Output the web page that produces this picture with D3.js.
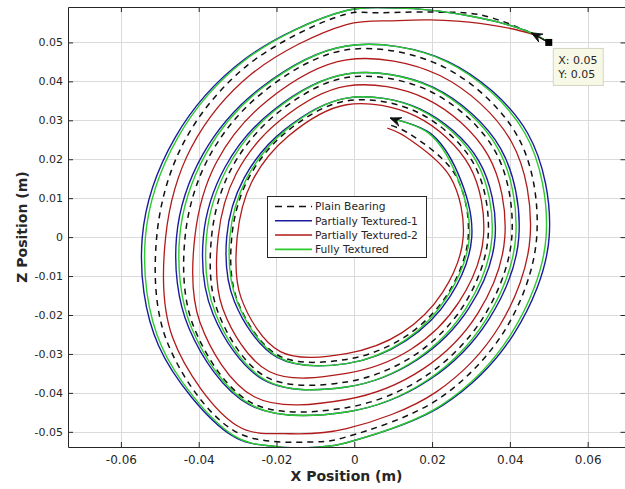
<!DOCTYPE html>
<html>
<head>
<meta charset="utf-8">
<script src="https://cdn.jsdelivr.net/npm/d3@7"></script>
<style>
  html, body { margin: 0; padding: 0; background: #ffffff; }
  svg { display: block; font-family: "DejaVu Sans", sans-serif; }
</style>
</head>
<body>
<svg id="chart" width="625" height="489"></svg>
<script>
// ---- data (journal centre orbit, X / Z position in metres) ----
const xTicks = [-0.06, -0.04, -0.02, 0, 0.02, 0.04, 0.06];
const xTickLabels = ["-0.06", "-0.04", "-0.02", "0", "0.02", "0.04", "0.06"];
const zTicks = [-0.05, -0.04, -0.03, -0.02, -0.01, 0, 0.01, 0.02, 0.03, 0.04, 0.05];
const zTickLabels = ["-0.05", "-0.04", "-0.03", "-0.02", "-0.01", "0", "0.01", "0.02", "0.03", "0.04", "0.05"];

const seriesNames = ["Plain Bearing", "Partially Textured-1", "Partially Textured-2", "Fully Textured"];

const plainBearing = [
  [0.0500, 0.0500], [0.0451, 0.0526], [0.0323, 0.0571], [0.0195, 0.0578], [0.0066, 0.0576],
  [-0.0020, 0.0573], [-0.0275, 0.0441], [-0.0439, 0.0242], [-0.0508, 0.0000], [-0.0482, -0.0267],
  [-0.0308, -0.0498], [-0.0101, -0.0526], [-0.0020, -0.0513], [0.0219, -0.0414], [0.0389, -0.0236],
  [0.0469, 0.0000], [0.0422, 0.0255], [0.0232, 0.0436], [-0.0020, 0.0481], [-0.0235, 0.0372],
  [-0.0374, 0.0205], [-0.0435, 0.0000], [-0.0414, -0.0227], [-0.0265, -0.0425], [-0.0020, -0.0438],
  [0.0185, -0.0356], [0.0333, -0.0204], [0.0405, 0.0000], [0.0362, 0.0221], [0.0196, 0.0374],
  [-0.0020, 0.0410], [-0.0202, 0.0315], [-0.0318, 0.0172], [-0.0367, 0.0000], [-0.0351, -0.0191],
  [-0.0227, -0.0359], [-0.0020, -0.0372], [0.0155, -0.0303], [0.0282, -0.0174], [0.0344, 0.0000],
  [0.0307, 0.0189], [0.0164, 0.0320], [-0.0020, 0.0350], [-0.0176, 0.0269], [-0.0274, 0.0147],
  [-0.0315, 0.0000], [-0.0301, -0.0162], [-0.0195, -0.0304], [-0.0020, -0.0314], [0.0129, -0.0257],
  [0.0238, -0.0149], [0.0293, 0.0000], [0.0259, 0.0161], [0.0136, 0.0269], [0.0085, 0.0290]
];

const partiallyTextured1 = [
  [0.0500, 0.0500], [0.0460, 0.0522], [0.0375, 0.0551], [0.0297, 0.0568], [0.0195, 0.0583],
  [0.0117, 0.0588], [-0.0020, 0.0582], [-0.0283, 0.0456], [-0.0461, 0.0255], [-0.0545, 0.0000],
  [-0.0503, -0.0279], [-0.0314, -0.0510], [-0.0199, -0.0538], [-0.0088, -0.0539], [-0.0020, -0.0528],
  [0.0229, -0.0431], [0.0410, -0.0249], [0.0501, 0.0000], [0.0445, 0.0268], [0.0241, 0.0451],
  [-0.0020, 0.0491], [-0.0241, 0.0383], [-0.0389, 0.0213], [-0.0457, 0.0000], [-0.0425, -0.0234],
  [-0.0269, -0.0431], [-0.0020, -0.0449], [0.0192, -0.0367], [0.0346, -0.0211], [0.0423, 0.0000],
  [0.0376, 0.0228], [0.0202, 0.0385], [-0.0020, 0.0419], [-0.0208, 0.0326], [-0.0332, 0.0180],
  [-0.0388, 0.0000], [-0.0363, -0.0198], [-0.0232, -0.0367], [-0.0020, -0.0385], [0.0162, -0.0315],
  [0.0295, -0.0182], [0.0362, 0.0000], [0.0320, 0.0196], [0.0170, 0.0329], [-0.0020, 0.0357],
  [-0.0179, 0.0276], [-0.0283, 0.0152], [-0.0328, 0.0000], [-0.0308, -0.0166], [-0.0198, -0.0309],
  [-0.0020, -0.0325], [0.0133, -0.0266], [0.0246, -0.0153], [0.0302, 0.0000], [0.0266, 0.0165],
  [0.0195, 0.0267], [0.0092, 0.0306]
];

const partiallyTextured2 = [
  [0.0500, 0.0500], [0.0451, 0.0523], [0.0323, 0.0549], [0.0195, 0.0558], [0.0110, 0.0556],
  [-0.0020, 0.0546], [-0.0263, 0.0420], [-0.0419, 0.0230], [-0.0485, 0.0000], [-0.0467, -0.0258],
  [-0.0300, -0.0485], [-0.0165, -0.0505], [-0.0020, -0.0492], [0.0210, -0.0398], [0.0374, -0.0227],
  [0.0452, 0.0000], [0.0404, 0.0245], [0.0220, 0.0415], [-0.0020, 0.0455], [-0.0223, 0.0351],
  [-0.0354, 0.0193], [-0.0410, 0.0000], [-0.0397, -0.0218], [-0.0257, -0.0410], [-0.0020, -0.0417],
  [0.0176, -0.0339], [0.0318, -0.0195], [0.0387, 0.0000], [0.0344, 0.0210], [0.0185, 0.0355],
  [-0.0020, 0.0388], [-0.0192, 0.0299], [-0.0303, 0.0164], [-0.0350, 0.0000], [-0.0338, -0.0184],
  [-0.0219, -0.0345], [-0.0020, -0.0350], [0.0146, -0.0288], [0.0269, -0.0167], [0.0332, 0.0000],
  [0.0296, 0.0183], [0.0159, 0.0310], [-0.0020, 0.0340], [-0.0170, 0.0259], [-0.0264, 0.0141],
  [-0.0301, 0.0000], [-0.0291, -0.0156], [-0.0190, -0.0294], [-0.0020, -0.0299], [0.0122, -0.0246],
  [0.0227, -0.0142], [0.0280, 0.0000], [0.0247, 0.0154], [0.0130, 0.0259], [0.0085, 0.0280]
];

const fullyTextured = [
  [0.0500, 0.0500], [0.0460, 0.0522], [0.0375, 0.0551], [0.0297, 0.0568], [0.0195, 0.0583],
  [0.0117, 0.0588], [-0.0020, 0.0582], [-0.0279, 0.0456], [-0.0454, 0.0255], [-0.0537, 0.0000],
  [-0.0496, -0.0279], [-0.0310, -0.0510], [-0.0199, -0.0538], [-0.0088, -0.0539], [-0.0020, -0.0528],
  [0.0225, -0.0431], [0.0403, -0.0249], [0.0493, 0.0000], [0.0438, 0.0268], [0.0237, 0.0451],
  [-0.0020, 0.0491], [-0.0237, 0.0383], [-0.0382, 0.0213], [-0.0449, 0.0000], [-0.0418, -0.0234],
  [-0.0265, -0.0431], [-0.0020, -0.0449], [0.0188, -0.0367], [0.0339, -0.0211], [0.0415, 0.0000],
  [0.0369, 0.0228], [0.0198, 0.0385], [-0.0020, 0.0419], [-0.0204, 0.0326], [-0.0325, 0.0180],
  [-0.0380, 0.0000], [-0.0356, -0.0198], [-0.0228, -0.0367], [-0.0020, -0.0385], [0.0158, -0.0315],
  [0.0288, -0.0182], [0.0354, 0.0000], [0.0313, 0.0196], [0.0166, 0.0329], [-0.0020, 0.0357],
  [-0.0175, 0.0276], [-0.0276, 0.0152], [-0.0320, 0.0000], [-0.0301, -0.0166], [-0.0194, -0.0309],
  [-0.0020, -0.0325], [0.0129, -0.0266], [0.0239, -0.0153], [0.0296, 0.0000], [0.0260, 0.0165],
  [0.0191, 0.0267], [0.0092, 0.0306]
];

// data tip on the starting point and the start-direction arrow
const tipPoint = [0.05, 0.05];
const startArrowTip = [0.0455, 0.0525];

// ---- layout ----
const W = 625, H = 489;
const plot = { left: 68, top: 7, right: 625, bottom: 447 };
const axisColor = "#262626";

const svg = d3.select("#chart");

const x = d3.scaleLinear().domain([-0.0736, 0.0696]).range([plot.left, plot.right]);
const y = d3.scaleLinear().domain([-0.0539, 0.0591]).range([plot.bottom, plot.top]);

svg.append("rect").attr("width", W).attr("height", H).attr("fill", "#ffffff");

// grid
const grid = svg.append("g").attr("stroke", "#dadada").attr("stroke-width", 1);
grid.selectAll("line.gx").data(xTicks).join("line")
  .attr("x1", d => Math.round(x(d)) + 0.5).attr("x2", d => Math.round(x(d)) + 0.5)
  .attr("y1", plot.top).attr("y2", plot.bottom);
grid.selectAll("line.gy").data(zTicks).join("line")
  .attr("y1", d => Math.round(y(d)) + 0.5).attr("y2", d => Math.round(y(d)) + 0.5)
  .attr("x1", plot.left).attr("x2", plot.right);

// clip for the orbit lines
svg.append("clipPath").attr("id", "plotClip")
  .append("rect").attr("x", plot.left).attr("y", plot.top)
  .attr("width", plot.right - plot.left).attr("height", plot.bottom - plot.top);

const line = d3.line()
  .x(d => x(d[0])).y(d => y(d[1]))
  .curve(d3.curveCatmullRom.alpha(0.5));

const styles = [
  { data: plainBearing, color: "#111111", dash: "6,5", width: 1.5 },
  { data: partiallyTextured1, color: "#1b1b9e", dash: null, width: 1.4 },
  { data: partiallyTextured2, color: "#b01a1a", dash: null, width: 1.3 },
  { data: fullyTextured, color: "#2ccc2c", dash: null, width: 1.4 }
];

const lines = svg.append("g").attr("clip-path", "url(#plotClip)");
styles.forEach(s => {
  lines.append("path")
    .attr("d", line(s.data))
    .attr("fill", "none")
    .attr("stroke", s.color)
    .attr("stroke-width", s.width)
    .attr("stroke-linejoin", "round")
    .attr("stroke-dasharray", s.dash);
});

// axes (ticks drawn inward on all four sides)
const xAxis = d3.axisBottom(x).tickValues(xTicks)
  .tickFormat((d, i) => xTickLabels[i]).tickSizeInner(-5).tickSizeOuter(0).tickPadding(8);
const yAxis = d3.axisLeft(y).tickValues(zTicks)
  .tickFormat((d, i) => zTickLabels[i]).tickSizeInner(-5).tickSizeOuter(0).tickPadding(5);
const xAxisTop = d3.axisTop(x).tickValues(xTicks).tickFormat("").tickSizeInner(-5).tickSizeOuter(0);
const yAxisRight = d3.axisRight(y).tickValues(zTicks).tickFormat("").tickSizeInner(-5).tickSizeOuter(0);

function styleAxis(g, fontSize) {
  g.selectAll("path.domain").attr("stroke", axisColor).attr("stroke-width", 1);
  g.selectAll(".tick line").attr("stroke", axisColor).attr("stroke-width", 1);
  g.selectAll(".tick text").attr("fill", axisColor)
    .style("font-family", '"DejaVu Sans", sans-serif').style("font-size", fontSize + "px");
}

svg.append("g").attr("transform", `translate(0,${plot.bottom})`).call(xAxis).call(g => styleAxis(g, 12));
svg.append("g").attr("transform", `translate(${plot.left},0)`).call(yAxis).call(g => styleAxis(g, 11));
svg.append("g").attr("transform", `translate(0,${plot.top})`).call(xAxisTop).call(g => styleAxis(g, 11));
svg.append("g").attr("transform", `translate(${plot.right + 0.5},0)`).call(yAxisRight).call(g => styleAxis(g, 11));

// axis titles
svg.append("text")
  .attr("x", (plot.left + plot.right) / 2).attr("y", 481)
  .attr("text-anchor", "middle").attr("fill", axisColor)
  .style("font-size", "14px").style("font-weight", "bold")
  .text("X Position (m)");
svg.append("text")
  .attr("transform", `translate(27,${(plot.top + plot.bottom) / 2}) rotate(-90)`)
  .attr("text-anchor", "middle").attr("fill", axisColor)
  .style("font-size", "14px").style("font-weight", "bold")
  .text("Z Position (m)");

// arrow heads showing the direction of travel
function arrowHead(tip, from) {
  const tx = x(tip[0]), ty = y(tip[1]);
  const fx = x(from[0]), fy = y(from[1]);
  const a = Math.atan2(ty - fy, tx - fx) * 180 / Math.PI;
  svg.append("path")
    .attr("d", "M0,0 L-11,-4.5 L-7,0 L-11,4.5 Z")
    .attr("transform", `translate(${tx},${ty}) rotate(${a})`)
    .attr("fill", "#111111").attr("stroke", "#111111").attr("stroke-width", 0.8)
    .attr("stroke-linejoin", "miter");
}
svg.append("line")
  .attr("x1", x(tipPoint[0])).attr("y1", y(tipPoint[1]))
  .attr("x2", x(startArrowTip[0])).attr("y2", y(startArrowTip[1]))
  .attr("stroke", "#111111").attr("stroke-width", 1.2);
arrowHead(startArrowTip, tipPoint);
const n = partiallyTextured1.length;
arrowHead(partiallyTextured1[n - 1], partiallyTextured1[n - 2]);

// data tip
svg.append("rect")
  .attr("x", x(tipPoint[0]) - 3.5).attr("y", y(tipPoint[1]) - 3.5)
  .attr("width", 7).attr("height", 7).attr("fill", "#000000");
const tipBox = svg.append("g").attr("transform", `translate(${x(tipPoint[0]) + 4.5},${y(tipPoint[1]) + 6})`);
tipBox.append("rect").attr("width", 50).attr("height", 37)
  .attr("fill", "#f8f8e6").attr("stroke", "#d4d4c4").attr("stroke-width", 1);
tipBox.append("text").attr("x", 5).attr("y", 12).attr("dy", "0.35em")
  .attr("fill", axisColor).style("font-size", "11px").text("X: " + tipPoint[0]);
tipBox.append("text").attr("x", 5).attr("y", 26).attr("dy", "0.35em")
  .attr("fill", axisColor).style("font-size", "11px").text("Y: " + tipPoint[1]);

// legend
const legend = svg.append("g").attr("transform", "translate(267,196)");
legend.append("rect").attr("x", 0.5).attr("y", 0.5).attr("width", 159).attr("height", 61)
  .attr("fill", "#ffffff").attr("stroke", axisColor).attr("stroke-width", 1);
seriesNames.forEach((name, i) => {
  const cy = 10.5 + i * 14.3;
  legend.append("line")
    .attr("x1", 8).attr("x2", 45).attr("y1", cy).attr("y2", cy)
    .attr("stroke", styles[i].color).attr("stroke-width", styles[i].width + 0.2)
    .attr("stroke-dasharray", styles[i].dash ? "7,5" : null);
  legend.append("text")
    .attr("x", 48).attr("y", cy).attr("dy", "0.35em")
    .attr("fill", axisColor).style("font-size", "10.7px").text(name);
});
</script>
</body>
</html>
